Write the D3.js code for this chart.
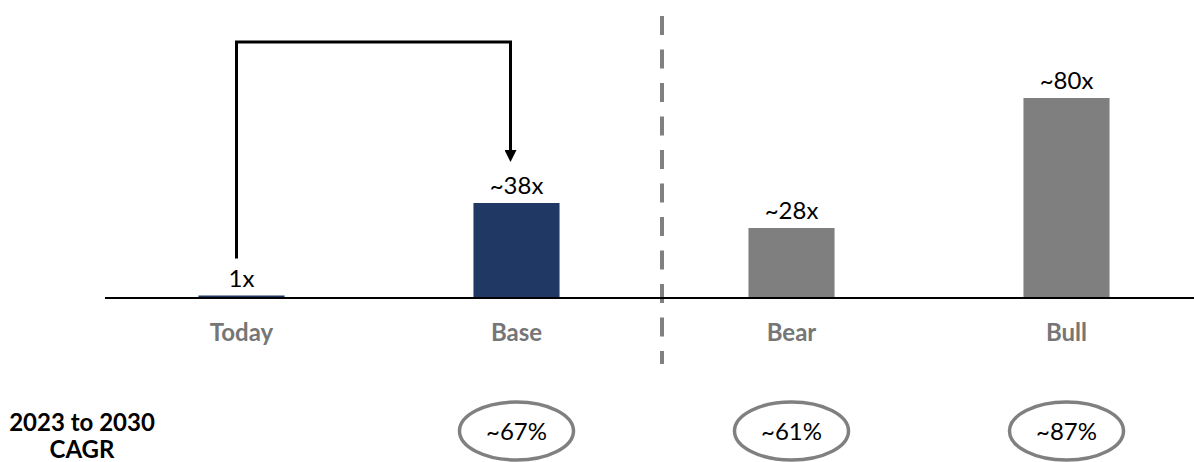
<!DOCTYPE html>
<html>
<head>
<meta charset="utf-8">
<script src="https://cdn.jsdelivr.net/npm/d3@7"></script>
<style>
    body { margin: 0; background: #fff; }
    svg { display: block; font-family: Lato, "Open Sans", sans-serif; }
</style>
</head>
<body>
<div id="chart"></div>
<script>
const categories = ["Today", "Base", "Bear", "Bull"];
const multiples = [1, 38, 28, 80];
const valueLabels = ["1x", "~38x", "~28x", "~80x"];
const cagrCategories = ["Base", "Bear", "Bull"];
const cagrLabels = ["~67%", "~61%", "~87%"];

const width = 1194, height = 462;
const baseY = 298;

const svg = d3.select("#chart").append("svg")
    .attr("width", width)
    .attr("height", height);

const x = d3.scaleBand()
    .domain(categories)
    .range([104, 1204])
    .paddingInner(0.687)
    .paddingOuter(0.3435);

const y = d3.scaleLinear()
    .domain([0, 100])
    .range([baseY, baseY - 250]);

const barColour = d => d === "Today" || d === "Base" ? "#1f3864" : "#7f7f7f";

// divider between base case and scenarios, sits a bit right of the gap middle
const divX = (x("Base") + x.bandwidth() + x("Bear")) / 2 + 8;
svg.append("line")
    .attr("x1", divX).attr("x2", divX)
    .attr("y1", 16).attr("y2", 364)
    .attr("stroke", "#808080")
    .attr("stroke-width", 4)
    .attr("stroke-dasharray", "19 14.5");

svg.selectAll(".bar")
    .data(categories)
    .enter().append("rect")
    .attr("class", "bar")
    .attr("x", d => x(d))
    .attr("y", (d, i) => y(multiples[i]))
    .attr("width", x.bandwidth())
    .attr("height", (d, i) => baseY - y(multiples[i]))
    .attr("fill", barColour);

svg.append("line")
    .attr("x1", 105).attr("x2", width)
    .attr("y1", baseY).attr("y2", baseY)
    .attr("stroke", "#000")
    .attr("stroke-width", 2);

svg.selectAll(".value-label")
    .data(categories)
    .enter().append("text")
    .attr("class", "value-label")
    .attr("x", d => x(d) + x.bandwidth() / 2)
    .attr("y", (d, i) => y(multiples[i]) - 9)
    .attr("text-anchor", "middle")
    .style("font-size", "24px")
    .style("fill", "#000")
    .text((d, i) => valueLabels[i]);

svg.selectAll(".cat-label")
    .data(categories)
    .enter().append("text")
    .attr("class", "cat-label")
    .attr("x", d => x(d) + x.bandwidth() / 2)
    .attr("y", 341)
    .attr("text-anchor", "middle")
    .style("font-size", "24px")
    .style("font-weight", "bold")
    .style("fill", "#767676")
    .text(d => d);

// arrow from today to base
svg.append("defs").append("marker")
    .attr("id", "head")
    .attr("viewBox", "0 0 12 12")
    .attr("refX", 0).attr("refY", 6)
    .attr("markerWidth", 12).attr("markerHeight", 12)
    .attr("markerUnits", "userSpaceOnUse")
    .attr("orient", "auto")
    .append("path")
    .attr("d", "M0,0 L12,6 L0,12 Z")
    .attr("fill", "#000");

const ax0 = x("Today") + x.bandwidth() / 2 - 5;
const ax1 = x("Base") + x.bandwidth() / 2 - 6;
svg.append("path")
    .attr("d", `M${ax0},${y(multiples[0]) - 37} V42 H${ax1} V${y(multiples[1]) - 53}`)
    .attr("fill", "none")
    .attr("stroke", "#000")
    .attr("stroke-width", 3)
    .attr("marker-end", "url(#head)");

// CAGR row
const rowLabel = svg.append("text")
    .attr("text-anchor", "middle")
    .style("font-size", "24px")
    .style("font-weight", "bold")
    .style("fill", "#000");
rowLabel.append("tspan").attr("x", 82).attr("y", 431).text("2023 to 2030");
rowLabel.append("tspan").attr("x", 82).attr("y", 458).text("CAGR");

const cagr = svg.selectAll(".cagr")
    .data(cagrCategories)
    .enter().append("g")
    .attr("class", "cagr")
    .attr("transform", d => `translate(${x(d) + x.bandwidth() / 2},431)`);

cagr.append("ellipse")
    .attr("rx", 57)
    .attr("ry", 29)
    .attr("fill", "none")
    .attr("stroke", "#808080")
    .attr("stroke-width", 3.5);

cagr.append("text")
    .attr("y", 9)
    .attr("text-anchor", "middle")
    .style("font-size", "24px")
    .style("fill", "#000")
    .text((d, i) => cagrLabels[i]);
</script>
</body>
</html>
